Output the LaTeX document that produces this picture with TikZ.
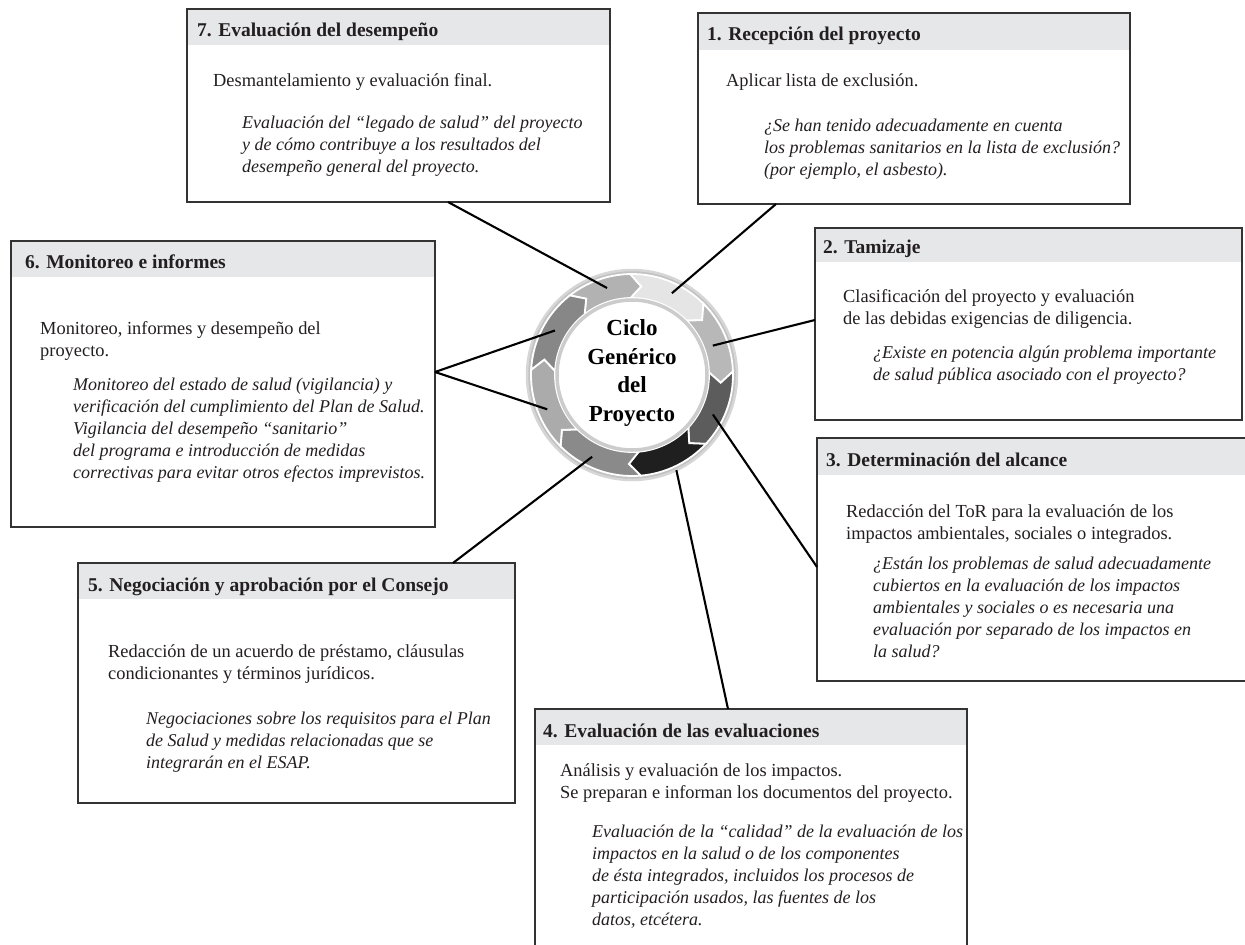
\documentclass[tikz,border=0pt]{standalone}
\usepackage{fontspec}
\setmainfont{Liberation Serif}
\usetikzlibrary{calc}

\definecolor{ink}{HTML}{231F20}
\definecolor{frame}{HTML}{333333}
\definecolor{hdrgray}{HTML}{E6E7E8}

% one left-aligned block of lines; its baseline is that of the first line
\newcommand\tlines[1]{\vtop{\halign{##\hfil\cr#1\crcr}}}

% stage box: name, left, top, width, height, header height
\newcommand\stagebox[6]{%
  \path node[anchor=north west, inner sep=0pt, outer sep=0pt,
             minimum width=#4pt, minimum height=#5pt] (#1) at (#2,#3) {};
  \fill[hdrgray] (#1.north west) rectangle ([yshift=-#6pt]#1.north east);
  \draw[boxline] (#1.north west) rectangle (#1.south east);
}

% chevron segment of the ring: start angle, end angle, colour (clockwise)
\newcommand\ringseg[3]{%
  \filldraw[fill=#3, draw=white, line width=1.8pt, line join=miter]
    (#1:101) arc[start angle=#1, end angle=#2, radius=101]
    -- (#2-7:89) -- (#2:77)
    arc[start angle=#2, end angle=#1, radius=77]
    -- (#1-7:89) -- cycle;
}

\tikzset{
  boxline/.style={draw=frame, line width=2.6pt},
  link/.style={draw=black, line width=2.1pt},
  hdtext/.style={anchor=base west, inner sep=0pt, text=ink,
                 font=\bfseries\fontsize{19.5}{23}\selectfont},
  bodytext/.style={anchor=base west, inner sep=0pt, text=ink,
                   font=\fontsize{18.4}{22.2}\selectfont},
  ittext/.style={anchor=base west, inner sep=0pt, text=ink,
                 font=\itshape\fontsize{18}{22.2}\selectfont},
}

\begin{document}
\begin{tikzpicture}[x=1pt, y=-1pt]
\clip (0,0) rectangle (1245,945);
\fill[white] (0,0) rectangle (1245,945);

% ---------- central cycle ----------
\begin{scope}[shift={(632,375)}, yscale=-1]
  \filldraw[fill=black!24, draw=black!16, line width=2.5pt] (0,0) circle[radius=105];
  \ringseg{128}{91}{black!30}
  \ringseg{91}{45}{black!10}
  \ringseg{45}{2}{black!28}
  \ringseg{2}{-43}{black!64}
  \ringseg{-43}{-85}{black!88}
  \ringseg{-85}{-135}{black!46}
  \ringseg{-135}{-183}{black!33}
  \ringseg{-183}{-232}{black!47}
  \filldraw[fill=white, draw=black!20, line width=3.5pt] (0,0) circle[radius=75];
  \coordinate (pA) at (106:90.5);
  \coordinate (pB) at (64:91);
  \coordinate (pC) at (20:86);
  \coordinate (pD) at (-26:90);
  \coordinate (pE) at (-65:105);
  \coordinate (pF) at (-116:91);
  \coordinate (pG) at (-158:91.5);
  \coordinate (pH) at (150:89);
\end{scope}
\node[align=center, inner sep=0pt, text=black,
      font=\bfseries\fontsize{23}{28.5}\selectfont] (ciclo) at (632,373)
  {Ciclo\\Genérico\\del\\Proyecto};

% ---------- stage boxes ----------
\stagebox{b7}{187}{9}{423}{193}{36}
\stagebox{b1}{698}{13}{432}{191}{37}
\stagebox{b2}{815}{228}{427}{192}{34}
\stagebox{b3}{817}{438}{450}{243}{37}
\stagebox{b4}{535}{709}{432}{260}{36}
\stagebox{b5}{78}{563}{437}{240}{36}
\stagebox{b6}{11}{241}{424}{286}{36}

% ---------- connectors ----------
\draw[link] ($(b7.south west)+(261,0)$) -- (pA);
\draw[link] ($(b1.south west)+(78,0)$) -- (pB);
\draw[link] ($(b2.north west)+(0,92)$) -- (pC);
\draw[link] ($(b3.north west)+(0,129)$) -- (pD);
\draw[link] ($(b4.north west)+(193,0)$) -- (pE);
\draw[link] ($(b5.north west)+(375,0)$) -- (pF);
\draw[link] ($(b6.north east)+(0,131)$) -- (pH);
\draw[link] ($(b6.north east)+(0,131)$) -- (pG);

% ---------- texts ----------
% 7
\node[hdtext] (t7h) at (197,36) {7. Evaluación del desempeño};
\node[bodytext] (t7r) at (213,86) {\tlines{Desmantelamiento y evaluación final.}};
\node[ittext] (t7i) at (242,128) {\tlines{%
  Evaluación del “legado de salud” del proyecto\cr
  y de cómo contribuye a los resultados del\cr
  desempeño general del proyecto.}};
% 1
\node[hdtext] (t1h) at (707,40) {1. Recepción del proyecto};
\node[bodytext] (t1r) at (726,86) {\tlines{Aplicar lista de exclusión.}};
\node[ittext] (t1i) at (764,131) {\tlines{%
  ¿Se han tenido adecuadamente en cuenta\cr
  los problemas sanitarios en la lista de exclusión?\cr
  (por ejemplo, el asbesto).}};
% 2
\node[hdtext] (t2h) at (823,253) {2. Tamizaje};
\node[bodytext] (t2r) at (843,302) {\tlines{%
  Clasificación del proyecto y evaluación\cr
  de las debidas exigencias de diligencia.}};
\node[ittext] (t2i) at (873,358) {\tlines{%
  ¿Existe en potencia algún problema importante\cr
  de salud pública asociado con el proyecto?}};
% 3
\node[hdtext] (t3h) at (826,466) {3. Determinación del alcance};
\node[bodytext] (t3r) at (846,517) {\tlines{%
  Redacción del ToR para la evaluación de los\cr
  impactos ambientales, sociales o integrados.}};
\node[ittext] (t3i) at (873,569) {\tlines{%
  ¿Están los problemas de salud adecuadamente\cr
  cubiertos en la evaluación de los impactos\cr
  ambientales y sociales o es necesaria una\cr
  evaluación por separado de los impactos en\cr
  la salud?}};
% 4
\node[hdtext] (t4h) at (543,737) {4. Evaluación de las evaluaciones};
\node[bodytext] (t4r) at (560,776) {\tlines{%
  Análisis y evaluación de los impactos.\cr
  Se preparan e informan los documentos del proyecto.}};
\node[ittext] (t4i) at (592,837) {\tlines{%
  Evaluación de la “calidad” de la evaluación de los\cr
  impactos en la salud o de los componentes\cr
  de ésta integrados, incluidos los procesos de\cr
  participación usados, las fuentes de los\cr
  datos, etcétera.}};
% 5
\node[hdtext] (t5h) at (88,591) {5. Negociación y aprobación por el Consejo};
\node[bodytext] (t5r) at (108,657) {\tlines{%
  Redacción de un acuerdo de préstamo, cláusulas\cr
  condicionantes y términos jurídicos.}};
\node[ittext] (t5i) at (146,724) {\tlines{%
  Negociaciones sobre los requisitos para el Plan\cr
  de Salud y medidas relacionadas que se\cr
  integrarán en el ESAP.}};
% 6
\node[hdtext] (t6h) at (25,268) {6. Monitoreo e informes};
\node[bodytext] (t6r) at (40,334) {\tlines{%
  Monitoreo, informes y desempeño del\cr
  proyecto.}};
\node[ittext] (t6i) at (73,390) {\tlines{%
  Monitoreo del estado de salud (vigilancia) y\cr
  verificación del cumplimiento del Plan de Salud.\cr
  Vigilancia del desempeño “sanitario”\cr
  del programa e introducción de medidas\cr
  correctivas para evitar otros efectos imprevistos.}};
\end{tikzpicture}
\end{document}
